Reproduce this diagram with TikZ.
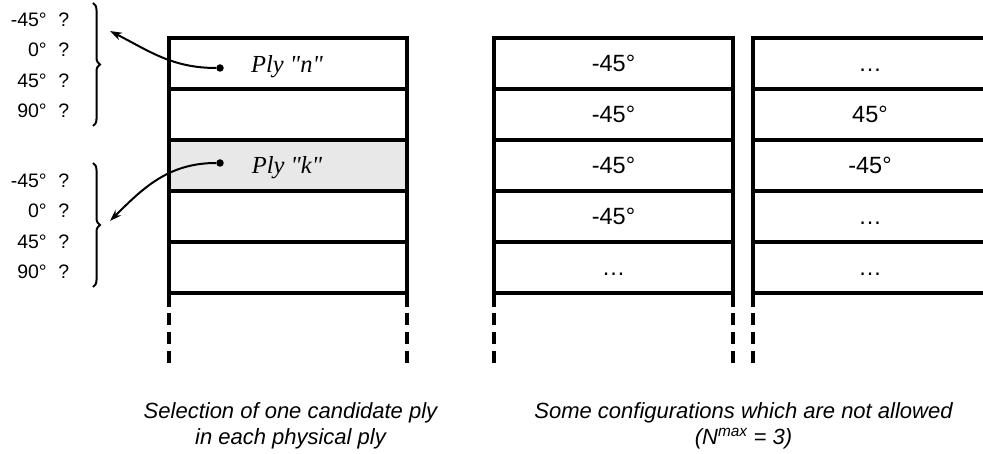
\documentclass[tikz,border=0pt]{standalone}
\usepackage{fontspec}
\newfontfamily\serifply{Liberation Serif}
\newfontfamily\arial{Liberation Sans}
\usepackage{tikz}
\usetikzlibrary{arrows.meta}
\usetikzlibrary{decorations.pathreplacing}
\colorlet{plygray}{black!9}
\newcommand\sz[1]{\fontsize{#1}{#1}\selectfont}
\tikzstyle{layer}=[line width=3.2pt,line cap=rect]
\tikzstyle{cut}=[line width=3.2pt,dash pattern=on 12pt off 7pt]
\tikzstyle{cell}=[anchor=base,inner sep=0pt,font=\arial\sz{23.5}]
\tikzstyle{angle}=[anchor=base east,inner sep=0pt,font=\arial\sz{19.5}]
\tikzstyle{plyname}=[anchor=base,inner sep=0pt,font=\serifply\itshape\sz{24.5}]
\tikzstyle{caption}=[anchor=base,inner sep=0pt,font=\arial\itshape\sz{22}]
\tikzstyle{dot}=[circle,fill,inner sep=0pt,minimum size=7.5pt]
\tikzstyle{pick}=[line width=2pt,-{Stealth[length=12pt,width=8pt]}]
\tikzstyle{choice}=[line width=2pt,decorate,decoration={brace,amplitude=7pt}]

\begin{document}
\begin{tikzpicture}[x=1pt,y=1pt]
	\useasboundingbox (0,0) rectangle (983,454);
	\fill[plygray] (169,314) rectangle (407,263);
	\foreach \l/\r in {169/407,494/733,753/990} {
		\foreach \y in {416,365,314,263,212,161}
			\draw[layer] (\l,\y) -- (\r,\y);
		\draw[layer] (\l,416) -- (\l,149);
		\draw[layer] (\r,416) -- (\r,149);
		\draw[cut] (\l,141) -- (\l,91);
		\draw[cut] (\r,141) -- (\r,91);
	}
	% candidate orientations
	\foreach \t [count=\i] in {-45°,0°,45°,90°} {
		\node[angle] (up\i) at (69.5,{458.4-30.5*\i}) {\t\hspace{0.6em}?};
		\node[angle] (lo\i) at (69.5,{297.4-30.5*\i}) {\t\hspace{0.6em}?};
	}
	\coordinate (upt) at (93,451); \coordinate (upb) at (93,328);
	\coordinate (lot) at (93,291); \coordinate (lob) at (93,167);
	\draw[choice] (upt) -- (upb);
	\draw[choice] (lot) -- (lob);
	% physical plies
	\node[dot] (n) at (220,386) {};
	\node[plyname] (plyn) at (287,381.3) {Ply "n"};
	\node[dot] (k) at (220,291) {};
	\node[plyname] (plyk) at (287,280) {Ply "k"};
	\coordinate (nend) at (110,423);
	\coordinate (kend) at (110,233);
	\draw[pick] (n) to[out=180,in=-27] (nend);
	\draw[pick] (k) to[out=180,in=45] (kend);
	% forbidden sequences
	\foreach \t [count=\i] in {-45°,-45°,-45°,-45°,…}
		\node[cell] (b\i) at (613.5,{433.1-51*\i}) {\t};
	\foreach \t [count=\i] in {…,45°,-45°,…,…}
		\node[cell] (c\i) at (870,{433.1-51*\i}) {\t};
	\node[caption] (sel1) at (290.5,35.7) {Selection of one candidate ply};
	\node[caption] (sel2) at (290.5,9.5) {in each physical ply};
	\node[caption] (cfg1) at (743.5,35.7) {Some configurations which are not allowed};
	\node[caption] (cfg2) at (743.5,9.5) {(N\textsuperscript{max} = 3)};
\end{tikzpicture}
\end{document}
